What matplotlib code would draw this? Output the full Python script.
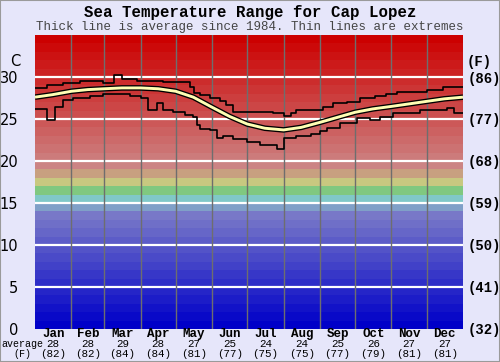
import matplotlib
matplotlib.use("Agg")
import matplotlib.pyplot as plt
import numpy as np

# months and monthly averages (C, F)
months = ["Jan", "Feb", "Mar", "Apr", "May", "Jun", "Jul", "Aug", "Sep", "Oct", "Nov", "Dec"]
month_days = [31, 28, 31, 30, 31, 30, 31, 31, 30, 31, 30, 31]
avg_c = [28, 28, 29, 28, 27, 25, 24, 24, 25, 26, 27, 27]
avg_f = [82, 82, 84, 84, 81, 77, 75, 75, 77, 79, 81, 81]

# daily average (thick line), read every ~15 days
avg_day = [0, 15, 31, 45, 59, 74, 90, 105, 120, 135, 151, 166, 181, 196, 212,
           227, 243, 258, 273, 288, 304, 319, 334, 349, 365]
avg_temp = [27.6, 27.9, 28.3, 28.5, 28.6, 28.7, 28.7, 28.6, 28.3, 27.6, 26.4, 25.3,
            24.4, 23.9, 23.7, 24.0, 24.6, 25.2, 25.8, 26.2, 26.5, 26.8, 27.1, 27.4, 27.6]

# extremes (thin step lines)
hi_day = [0, 10, 24, 38, 58, 67, 74, 87, 109, 132, 136, 141, 149, 158, 163, 169,
          203, 212, 218, 223, 246, 254, 266, 277, 290, 299, 309, 334, 348, 365]
hi_temp = [28.7, 29.0, 29.3, 29.5, 29.3, 30.2, 29.8, 29.5, 29.4, 28.8, 28.1, 27.9,
           27.5, 27.1, 26.7, 25.8, 25.7, 25.4, 25.7, 26.1, 26.4, 26.9, 27.0, 27.5,
           27.7, 28.0, 28.2, 28.5, 28.8, 28.8]
lo_day = [0, 10, 17, 24, 32, 47, 58, 81, 90, 96, 104, 109, 118, 128, 135, 138, 141,
          149, 155, 160, 169, 181, 192, 206, 212, 223, 235, 243, 249, 260, 275, 286,
          294, 305, 328, 351, 357, 365]
lo_temp = [26.2, 24.9, 26.4, 27.3, 27.5, 27.7, 28.0, 27.7, 27.5, 26.1, 26.9, 26.1,
           25.8, 25.5, 25.2, 24.3, 23.8, 23.7, 22.7, 23.0, 22.6, 22.3, 21.9, 21.4,
           22.7, 23.0, 23.2, 23.6, 23.9, 24.5, 25.1, 24.9, 25.2, 25.7, 26.1, 26.3,
           25.7, 25.7]

c_ticks = [0, 5, 10, 15, 20, 25, 30]
f_labels = ["(32)", "(41)", "(50)", "(59)", "(68)", "(77)", "(86)"]


def band_color(t):
    """colour of the 1 degree band starting at t"""
    special = {14: "#80a0c8", 15: "#80c8c8", 16: "#80c880", 17: "#c8c880", 18: "#c8a080"}
    if t in special:
        return special[t]
    if t < 14:
        v = 0x78 * t / 13
        return (v / 255, v / 255, 200 / 255)
    g = 0x84 * (34 - t) / 15
    return (204 / 255, g / 255, g / 255)


fig = plt.figure(figsize=(5, 3.62), dpi=100, facecolor="#e6e6fa")
ax = fig.add_axes([0.07, 0.0912, 0.856, 0.8121])
ax.set_facecolor("#e6e6fa")

for t in range(35):
    ax.axhspan(t, t + 1, color=band_color(t), lw=0, zorder=0)
for t in c_ticks[1:]:
    ax.axhline(t, color="white", lw=1.6, zorder=1)
bounds = np.cumsum(month_days)
for b in bounds[:-1]:
    ax.axvline(b, color="#6e6e6e", lw=1, zorder=1)

ax.step(hi_day, hi_temp, where="post", color="black", lw=1.2, zorder=3)
ax.step(lo_day, lo_temp, where="post", color="black", lw=1.2, zorder=3)
ax.plot(avg_day, avg_temp, color="black", lw=4.0, zorder=4, solid_capstyle="butt")
ax.plot(avg_day, avg_temp, color="#ffffb4", lw=2.1, zorder=5, solid_capstyle="butt")

ax.set_xlim(0, 365)
ax.set_ylim(0, 35)
for s in ax.spines.values():
    s.set_visible(False)
ax.set_xticks([])
ax.set_yticks(c_ticks)
ax.tick_params(axis="y", length=0, pad=12, labelsize=10.5)

ax2 = ax.twinx()
ax2.set_ylim(0, 35)
ax2.set_yticks(c_ticks)
ax2.set_yticklabels(f_labels, family="Liberation Mono", weight="bold", fontsize=10)
ax2.tick_params(axis="y", length=0, pad=3)
for s in ax2.spines.values():
    s.set_visible(False)

ax.text(-0.045, 31.8, "C", transform=ax.get_yaxis_transform(), ha="center", va="center",
        fontsize=10.5)
ax2.text(1.008, 31.8, "(F)", transform=ax.get_yaxis_transform(), ha="left", va="center",
         family="Liberation Mono", weight="bold", fontsize=10)

starts = np.concatenate([[0], bounds[:-1]])
centers = starts + np.array(month_days) / 2
mono = "Liberation Mono"
for i, m in enumerate(months):
    ax.annotate(m, (centers[i], 0), xycoords=("data", "axes fraction"),
                xytext=(0, -5.5), textcoords="offset pixels", ha="center", va="center",
                family=mono, weight="bold", fontsize=9)
    ax.annotate(str(avg_c[i]), (centers[i], 0), xycoords=("data", "axes fraction"),
                xytext=(0, -15.5), textcoords="offset pixels", ha="center", va="center",
                family=mono, fontsize=7.8)
    ax.annotate("(%d)" % avg_f[i], (centers[i], 0), xycoords=("data", "axes fraction"),
                xytext=(0, -25), textcoords="offset pixels", ha="center", va="center",
                family=mono, fontsize=7.8)
fig.text(22 / 500, 1 - 344 / 362, "average", ha="center", va="center", family=mono,
         fontsize=7.2)
fig.text(22 / 500, 1 - 354 / 362, "(F)", ha="center", va="center", family=mono,
         fontsize=7.2)

fig.text(0.5, 1 - 12 / 362, "Sea Temperature Range for Cap Lopez", ha="center",
         va="center", family=mono, weight="bold", fontsize=11.3)
fig.text(0.5, 1 - 27 / 362, "Thick line is average since 1984. Thin lines are extremes",
         ha="center", va="center", family=mono, fontsize=9, color="#444444")

fig.patches.append(plt.Rectangle((0, 0), 1, 1, transform=fig.transFigure, fill=False,
                                 edgecolor="#9a9a9a", lw=1.5))

fig.savefig("out.png", dpi=100, facecolor=fig.get_facecolor())
